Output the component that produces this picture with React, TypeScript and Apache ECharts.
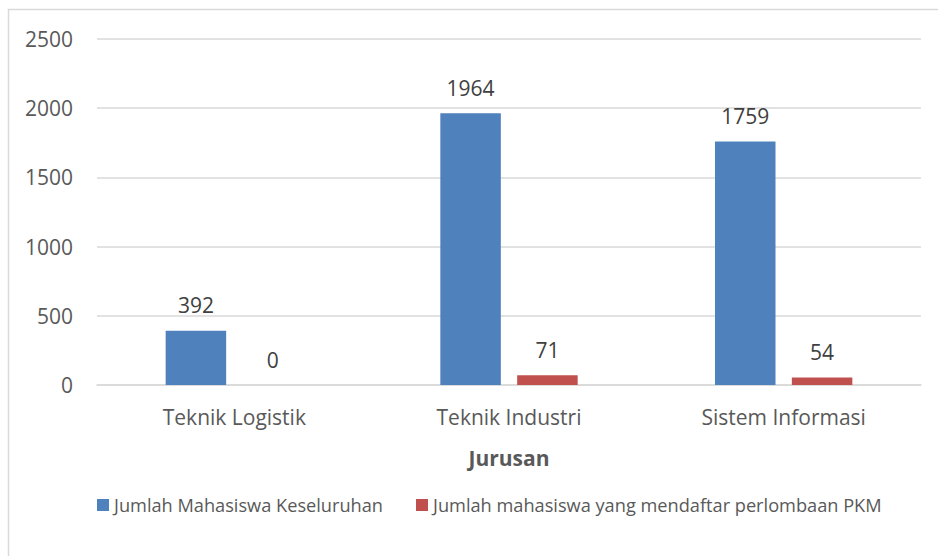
import React, { useEffect, useRef } from "react";
import * as echarts from "echarts";

const categories = ["Teknik Logistik", "Teknik Industri", "Sistem Informasi"];
const totalStudents = [392, 1964, 1759];
const pkmStudents = [0, 71, 54];
const seriesNames = [
  "Jumlah Mahasiswa Keseluruhan",
  "Jumlah mahasiswa yang mendaftar perlombaan PKM",
];
const axisTitle = "Jurusan";

const FONT = "'Open Sans', 'Noto Sans', sans-serif";

export default function App() {
  const ref = useRef<HTMLDivElement>(null);
  useEffect(() => {
    if (!ref.current) return;
    const chart = echarts.init(ref.current, undefined, { renderer: "svg" });
    const labelStyle = {
      show: true,
      position: "top" as const,
      distance: 15,
      color: "#404040",
      fontSize: 21,
      fontFamily: FONT,
    };
    chart.setOption({
      animation: false,
      backgroundColor: "#ffffff",
      textStyle: { fontFamily: FONT },
      graphic: [
        {
          type: "rect",
          shape: { x: 8.5, y: 9.5, width: 1000, height: 1000 },
          style: { fill: "none", stroke: "#d9d9d9", lineWidth: 1.5 },
          silent: true,
          z: -10,
        },
      ],
      grid: { left: 97, right: 17, top: 39, bottom: 171 },
      legend: {
        left: 92,
        top: 491,
        itemWidth: 12,
        itemHeight: 12,
        itemGap: 33,
        icon: "rect",
        textStyle: { color: "#595959", fontSize: 18.2, fontFamily: FONT },
        data: seriesNames,
      },
      xAxis: {
        type: "category",
        data: categories,
        name: axisTitle,
        nameLocation: "middle",
        nameGap: 62,
        nameTextStyle: {
          color: "#595959",
          fontSize: 21,
          fontWeight: "bold",
          fontFamily: FONT,
        },
        axisLine: { show: true, lineStyle: { color: "#d9d9d9", width: 1.5 } },
        axisTick: { show: false },
        axisLabel: {
          color: "#595959",
          fontSize: 21,
          margin: 21,
          fontFamily: FONT,
        },
      },
      yAxis: {
        type: "value",
        min: 0,
        max: 2500,
        interval: 500,
        axisLine: { show: false },
        axisTick: { show: false },
        axisLabel: {
          color: "#595959",
          fontSize: 21,
          margin: 24,
          fontFamily: FONT,
          formatter: (v: number) => String(v),
        },
        splitLine: { lineStyle: { color: "#d9d9d9", width: 1.5 } },
      },
      series: [
        {
          name: seriesNames[0],
          type: "bar",
          data: totalStudents,
          itemStyle: { color: "#4F81BD" },
          barGap: "27%",
          barCategoryGap: "50%",
          label: labelStyle,
        },
        {
          name: seriesNames[1],
          type: "bar",
          data: pkmStudents,
          itemStyle: { color: "#C0504D" },
          label: labelStyle,
        },
      ],
    });
    return () => chart.dispose();
  }, []);
  return (
    <div
      ref={ref}
      style={{ position: "fixed", left: 0, top: 0, width: 938, height: 556 }}
    />
  );
}
